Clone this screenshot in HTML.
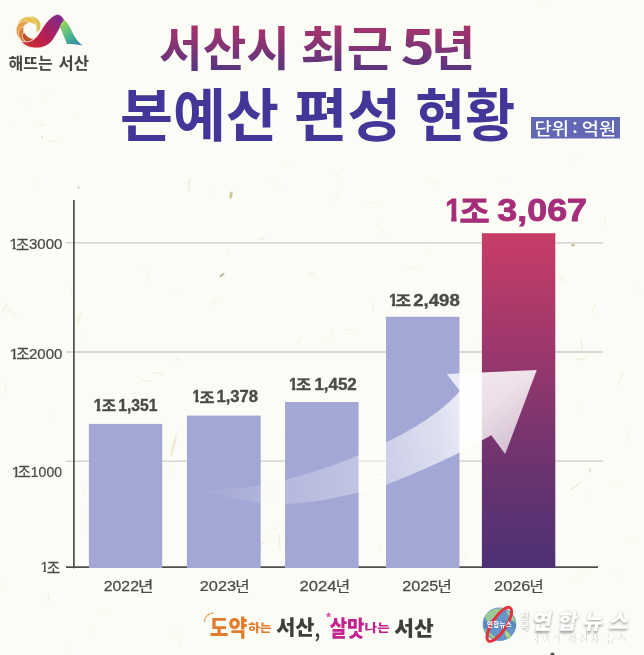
<!DOCTYPE html>
<html lang="ko">
<head>
<meta charset="utf-8">
<title>서산시 최근 5년 본예산 편성 현황</title>
<style>
html,body{margin:0;padding:0;background:#fcfcf6;}
body{width:644px;height:655px;overflow:hidden;position:relative;font-family:"Liberation Sans","Noto Sans CJK KR",sans-serif;}
svg{position:absolute;left:0;top:0;display:block;}
text{font-family:"Liberation Sans","Noto Sans CJK KR",sans-serif;}
.k{font-family:"Noto Sans CJK KR","Liberation Sans",sans-serif;}
</style>
</head>
<body>
<svg width="644" height="655" viewBox="0 0 644 655">
<defs>
  <linearGradient id="gT1" x1="0" y1="-41.500" x2="0" y2="4.500" gradientUnits="userSpaceOnUse">
    <stop offset="0" stop-color="#ad336a"/><stop offset="1" stop-color="#583680"/>
  </linearGradient>
  <linearGradient id="gBar" x1="0" y1="0" x2="0" y2="1">
    <stop offset="0" stop-color="#c93d68"/><stop offset="0.29" stop-color="#a3386b"/><stop offset="0.72" stop-color="#693370"/><stop offset="1" stop-color="#4d3174"/>
  </linearGradient>
  <linearGradient id="gRib" x1="22" y1="46" x2="62" y2="16" gradientUnits="userSpaceOnUse">
    <stop offset="0" stop-color="#d0342c"/><stop offset="0.45" stop-color="#b81f4e"/><stop offset="1" stop-color="#7d2a92"/>
  </linearGradient>
  <linearGradient id="gGrn" x1="62" y1="22" x2="80" y2="46" gradientUnits="userSpaceOnUse">
    <stop offset="0" stop-color="#9ed45c"/><stop offset="0.5" stop-color="#4fb88a"/><stop offset="1" stop-color="#2a7fa8"/>
  </linearGradient>
  <linearGradient id="gArrow" x1="197" y1="0" x2="540" y2="0" gradientUnits="userSpaceOnUse">
    <stop offset="0" stop-color="#ffffff" stop-opacity="0"/>
    <stop offset="0.125" stop-color="#ffffff" stop-opacity="0.100"/>
    <stop offset="0.265" stop-color="#ffffff" stop-opacity="0.210"/>
    <stop offset="0.449" stop-color="#ffffff" stop-opacity="0.320"/>
    <stop offset="0.7055" stop-color="#ffffff" stop-opacity="0.660"/>
    <stop offset="0.816" stop-color="#ffffff" stop-opacity="0.880"/>
    <stop offset="1" stop-color="#ffffff" stop-opacity="0.930"/>
  </linearGradient>
  <linearGradient id="gFade" x1="425" y1="425" x2="485" y2="485" gradientUnits="userSpaceOnUse">
    <stop offset="0" stop-color="#ffffff"/>
    <stop offset="0.4" stop-color="#f0f0f0"/>
    <stop offset="1" stop-color="#bdbdbd"/>
  </linearGradient>
  <mask id="mArrow" maskUnits="userSpaceOnUse" x="180" y="350" width="380" height="170"><rect x="180" y="350" width="380" height="170" fill="url(#gFade)"/></mask>
  <filter id="fSh" x="-10%" y="-30%" width="120%" height="160%"><feGaussianBlur stdDeviation="1.100"/></filter>
  <filter id="fSh2" x="-10%" y="-30%" width="120%" height="160%"><feGaussianBlur stdDeviation="0.700"/></filter>
  <clipPath id="c1r14_97" clipPathUnits="userSpaceOnUse"><path d="M-0.75,-14.97 L9.28,-14.97 L9.28,-2.12 L5.79,-2.12 L5.79,1.20 L3.06,1.20 L3.06,-2.12 L-0.75,-2.12 Z"/></clipPath>
  <clipPath id="c1r14_68" clipPathUnits="userSpaceOnUse"><path d="M-0.73,-14.68 L9.10,-14.68 L9.10,-2.10 L5.69,-2.10 L5.69,1.17 L2.99,1.17 L2.99,-2.10 L-0.73,-2.10 Z"/></clipPath>
  <clipPath id="c1r15_41" clipPathUnits="userSpaceOnUse"><path d="M-0.77,-15.41 L9.55,-15.41 L9.55,-2.15 L5.94,-2.15 L5.94,1.23 L3.18,1.23 L3.18,-2.15 L-0.77,-2.15 Z"/></clipPath>
  <clipPath id="c1b31_4" clipPathUnits="userSpaceOnUse"><path d="M-1.57,-31.40 L19.47,-31.40 L19.47,-4.20 L12.34,-4.20 L12.34,2.51 L6.63,2.51 L6.63,-4.20 L-1.57,-4.20 Z"/></clipPath>
  <clipPath id="c1b16_86" clipPathUnits="userSpaceOnUse"><path d="M-0.84,-16.86 L10.45,-16.86 L10.45,-2.72 L6.95,-2.72 L6.95,1.35 L3.24,1.35 L3.24,-2.72 L-0.84,-2.72 Z"/></clipPath>
</defs>
<rect width="644" height="655" fill="#fcfcf6"/>
<g id="paper" fill="none" stroke-linecap="round">
<path d="M595.2,305.0 Q592.1,309.2 592.9,313.3" stroke="#efe8cc" stroke-width="1.1" stroke-opacity="0.71"/>
<path d="M408.6,390.0 Q410.6,394.6 409.7,397.3" stroke="#efe8cc" stroke-width="1.1" stroke-opacity="0.72"/>
<path d="M38.4,124.6 Q41.0,124.5 44.0,125.1" stroke="#f1ebd3" stroke-width="1.3" stroke-opacity="0.58"/>
<path d="M321.9,433.9 Q327.4,440.0 327.0,440.1" stroke="#f1ebd3" stroke-width="1.3" stroke-opacity="0.67"/>
<path d="M488.1,335.9 Q485.5,335.2 487.5,339.2" stroke="#efe8cc" stroke-width="0.8" stroke-opacity="0.38"/>
<path d="M545.7,0.4 Q542.9,4.0 540.6,1.8" stroke="#ece6cf" stroke-width="0.9" stroke-opacity="0.38"/>
<path d="M501.4,176.7 Q505.1,180.0 503.3,180.1" stroke="#efe8cc" stroke-width="0.6" stroke-opacity="0.46"/>
<path d="M7.1,304.5 Q2.9,308.1 2.5,311.6" stroke="#e9e4d2" stroke-width="1.4" stroke-opacity="0.70"/>
<path d="M173.7,636.0 Q179.5,639.1 180.6,645.6" stroke="#eee9d8" stroke-width="0.9" stroke-opacity="0.73"/>
<path d="M64.6,648.0 Q68.1,648.9 68.3,651.9" stroke="#efe8cc" stroke-width="0.8" stroke-opacity="0.38"/>
<path d="M378.2,545.2 Q379.8,546.2 379.8,549.4" stroke="#ece6cf" stroke-width="0.7" stroke-opacity="0.62"/>
<path d="M356.7,450.0 Q354.4,450.9 357.1,457.2" stroke="#f1ebd3" stroke-width="0.6" stroke-opacity="0.58"/>
<path d="M153.5,461.5 Q151.6,461.8 148.6,464.6" stroke="#efe8cc" stroke-width="0.7" stroke-opacity="0.67"/>
<path d="M81.4,313.9 Q77.0,317.0 77.8,323.5" stroke="#efe8cc" stroke-width="1.3" stroke-opacity="0.69"/>
<path d="M173.4,291.9 Q174.1,293.3 176.5,293.9" stroke="#e9e4d2" stroke-width="0.6" stroke-opacity="0.51"/>
<path d="M631.4,430.3 Q627.9,432.6 628.7,440.5" stroke="#f1ebd3" stroke-width="0.5" stroke-opacity="0.76"/>
<path d="M579.7,482.8 Q577.9,485.2 571.2,489.3" stroke="#e9e4d2" stroke-width="1.1" stroke-opacity="0.76"/>
<path d="M426.5,248.4 Q425.6,246.4 429.6,249.1" stroke="#f1ebd3" stroke-width="0.7" stroke-opacity="0.54"/>
<path d="M250.2,481.4 Q253.1,483.6 251.9,490.7" stroke="#eee9d8" stroke-width="1.2" stroke-opacity="0.36"/>
<path d="M502.3,432.4 Q497.5,431.6 494.4,435.1" stroke="#f1ebd3" stroke-width="1.1" stroke-opacity="0.58"/>
<path d="M277.5,527.9 Q270.7,530.8 265.4,532.7" stroke="#e9e4d2" stroke-width="0.8" stroke-opacity="0.41"/>
<path d="M631.4,538.3 Q634.1,542.4 631.7,542.5" stroke="#f1ebd3" stroke-width="0.8" stroke-opacity="0.58"/>
<path d="M461.3,551.4 Q465.9,554.3 466.6,559.8" stroke="#f1ebd3" stroke-width="1.0" stroke-opacity="0.66"/>
<path d="M367.5,202.4 Q371.1,202.5 379.1,203.1" stroke="#ece6cf" stroke-width="0.5" stroke-opacity="0.72"/>
<path d="M501.8,521.9 Q506.0,524.6 514.8,526.8" stroke="#efe8cc" stroke-width="1.1" stroke-opacity="0.52"/>
<path d="M6.9,309.3 Q10.2,311.3 16.1,315.1" stroke="#eee9d8" stroke-width="1.1" stroke-opacity="0.58"/>
<path d="M144.2,268.9 Q146.1,273.1 148.6,280.9" stroke="#eee9d8" stroke-width="1.3" stroke-opacity="0.35"/>
<path d="M298.6,426.6 Q298.9,429.5 295.3,430.6" stroke="#e9e4d2" stroke-width="1.1" stroke-opacity="0.45"/>
<path d="M345.8,518.0 Q344.8,518.0 339.5,519.8" stroke="#eee9d8" stroke-width="0.6" stroke-opacity="0.55"/>
<path d="M271.4,180.3 Q278.7,184.0 281.5,188.6" stroke="#ece6cf" stroke-width="0.5" stroke-opacity="0.59"/>
<path d="M580.0,339.4 Q583.2,345.0 581.9,349.7" stroke="#e9e4d2" stroke-width="1.1" stroke-opacity="0.69"/>
<path d="M339.2,190.1 Q337.0,197.1 334.5,200.0" stroke="#e9e4d2" stroke-width="1.0" stroke-opacity="0.49"/>
<path d="M614.9,569.9 Q615.5,574.1 620.5,577.8" stroke="#e9e4d2" stroke-width="0.7" stroke-opacity="0.57"/>
<path d="M345.1,329.6 Q352.7,330.1 354.7,330.4" stroke="#eee9d8" stroke-width="0.9" stroke-opacity="0.71"/>
<path d="M107.4,609.7 Q105.3,610.1 99.6,611.7" stroke="#f1ebd3" stroke-width="0.7" stroke-opacity="0.57"/>
<path d="M279.3,534.3 Q278.7,538.9 280.2,547.2" stroke="#ece6cf" stroke-width="1.1" stroke-opacity="0.77"/>
<path d="M22.9,101.9 Q25.3,101.6 24.9,104.3" stroke="#eee9d8" stroke-width="0.9" stroke-opacity="0.57"/>
<path d="M79.1,334.4 Q81.6,335.7 83.8,337.7" stroke="#eee9d8" stroke-width="0.8" stroke-opacity="0.54"/>
<path d="M396.6,352.5 Q394.2,357.0 395.2,364.9" stroke="#ece6cf" stroke-width="1.0" stroke-opacity="0.61"/>
<path d="M149.8,485.2 Q143.0,485.9 138.5,488.8" stroke="#ece6cf" stroke-width="1.3" stroke-opacity="0.45"/>
<path d="M154.1,475.9 Q158.9,476.3 159.7,477.7" stroke="#e9e4d2" stroke-width="1.2" stroke-opacity="0.41"/>
<path d="M404.4,523.3 Q403.1,527.2 403.5,527.2" stroke="#f1ebd3" stroke-width="0.8" stroke-opacity="0.67"/>
<path d="M323.8,449.1 Q323.9,446.9 328.7,450.2" stroke="#eee9d8" stroke-width="1.0" stroke-opacity="0.58"/>
<path d="M74.0,113.0 Q76.6,115.3 77.0,116.7" stroke="#efe8cc" stroke-width="0.6" stroke-opacity="0.66"/>
<path d="M300.7,337.5 Q296.6,342.4 298.3,344.9" stroke="#e9e4d2" stroke-width="1.3" stroke-opacity="0.43"/>
<path d="M231.6,242.5 Q227.0,250.4 227.3,254.9" stroke="#e9e4d2" stroke-width="0.8" stroke-opacity="0.39"/>
<path d="M376.5,223.3 Q377.8,229.2 383.8,232.1" stroke="#ece6cf" stroke-width="0.6" stroke-opacity="0.77"/>
<path d="M577.4,576.3 Q575.0,579.3 569.5,583.4" stroke="#f1ebd3" stroke-width="1.2" stroke-opacity="0.38"/>
<path d="M175.8,629.7 Q177.7,629.8 180.7,633.7" stroke="#e9e4d2" stroke-width="0.6" stroke-opacity="0.58"/>
<path d="M413.6,459.3 Q405.1,460.4 402.3,460.0" stroke="#e9e4d2" stroke-width="1.2" stroke-opacity="0.47"/>
<path d="M325.1,498.7 Q328.7,497.5 335.2,499.0" stroke="#e9e4d2" stroke-width="0.8" stroke-opacity="0.59"/>
<path d="M622.8,372.0 Q621.8,375.8 617.0,384.7" stroke="#efe8cc" stroke-width="1.0" stroke-opacity="0.69"/>
<path d="M551.1,355.0 Q552.1,358.4 553.2,364.3" stroke="#eee9d8" stroke-width="0.9" stroke-opacity="0.49"/>
<path d="M184.0,429.1 Q188.2,431.4 189.8,436.2" stroke="#efe8cc" stroke-width="0.5" stroke-opacity="0.46"/>
<path d="M407.6,267.8 Q411.7,268.0 418.0,269.5" stroke="#f1ebd3" stroke-width="1.0" stroke-opacity="0.68"/>
<path d="M47.3,593.1 Q50.4,595.5 47.9,600.8" stroke="#e9e4d2" stroke-width="1.0" stroke-opacity="0.77"/>
<path d="M93.0,628.8 Q88.6,630.5 89.5,633.3" stroke="#f1ebd3" stroke-width="0.6" stroke-opacity="0.74"/>
<path d="M285.2,437.5 Q288.4,439.9 290.6,443.3" stroke="#ece6cf" stroke-width="1.2" stroke-opacity="0.59"/>
<path d="M613.5,481.0 Q618.5,483.6 618.8,482.9" stroke="#f1ebd3" stroke-width="1.1" stroke-opacity="0.51"/>
<path d="M392.7,474.9 Q395.8,476.4 401.6,480.9" stroke="#ece6cf" stroke-width="1.4" stroke-opacity="0.58"/>
<path d="M39.1,177.5 Q35.3,181.3 36.2,184.6" stroke="#ece6cf" stroke-width="0.6" stroke-opacity="0.39"/>
<path d="M354.6,413.4 Q353.1,416.0 355.1,420.5" stroke="#efe8cc" stroke-width="1.2" stroke-opacity="0.73"/>
<path d="M516.7,293.0 Q513.0,295.6 506.1,298.9" stroke="#ece6cf" stroke-width="1.2" stroke-opacity="0.53"/>
<path d="M237.6,428.1 Q241.5,435.5 244.8,440.0" stroke="#f1ebd3" stroke-width="1.3" stroke-opacity="0.54"/>
<path d="M373.9,302.6 Q373.0,306.3 373.0,309.1" stroke="#efe8cc" stroke-width="1.2" stroke-opacity="0.56"/>
<path d="M49.0,139.7 Q52.8,142.3 58.9,142.3" stroke="#ece6cf" stroke-width="1.1" stroke-opacity="0.48"/>
<path d="M140.9,430.5 Q136.7,431.1 134.6,432.4" stroke="#f1ebd3" stroke-width="1.0" stroke-opacity="0.76"/>
<path d="M282.1,526.0 Q283.2,531.3 285.5,531.3" stroke="#f1ebd3" stroke-width="1.3" stroke-opacity="0.46"/>
<path d="M436.0,383.0 Q431.2,386.7 428.0,391.6" stroke="#ece6cf" stroke-width="0.6" stroke-opacity="0.62"/>
<path d="M113.7,497.1 Q114.9,502.1 121.8,506.9" stroke="#efe8cc" stroke-width="1.0" stroke-opacity="0.61"/>
<path d="M419.4,526.8 Q420.8,526.2 418.8,530.5" stroke="#f1ebd3" stroke-width="0.6" stroke-opacity="0.68"/>
<path d="M54.5,415.4 Q53.8,415.5 51.3,418.6" stroke="#eee9d8" stroke-width="0.7" stroke-opacity="0.69"/>
<path d="M217.8,300.7 Q214.0,300.5 212.1,304.6" stroke="#efe8cc" stroke-width="0.9" stroke-opacity="0.71"/>
<path d="M264.4,541.2 Q261.6,545.5 255.2,545.8" stroke="#efe8cc" stroke-width="1.3" stroke-opacity="0.78"/>
<path d="M337.4,465.1 Q338.3,468.7 340.2,476.6" stroke="#e9e4d2" stroke-width="1.2" stroke-opacity="0.80"/>
<path d="M250.7,346.5 Q247.7,349.0 245.1,348.6" stroke="#ece6cf" stroke-width="0.8" stroke-opacity="0.42"/>
<path d="M587.5,493.3 Q589.4,493.8 587.6,496.5" stroke="#eee9d8" stroke-width="0.7" stroke-opacity="0.51"/>
<path d="M151.6,469.8 Q153.4,471.6 158.9,476.0" stroke="#f1ebd3" stroke-width="0.7" stroke-opacity="0.69"/>
<path d="M354.5,559.0 Q358.5,563.9 357.0,566.9" stroke="#ece6cf" stroke-width="1.2" stroke-opacity="0.39"/>
<path d="M86.5,522.9 Q82.6,528.7 75.5,531.1" stroke="#efe8cc" stroke-width="0.6" stroke-opacity="0.77"/>
<path d="M289.8,161.5 Q285.8,164.6 282.8,164.4" stroke="#eee9d8" stroke-width="0.6" stroke-opacity="0.76"/>
<path d="M84.4,485.8 Q81.5,491.1 83.9,495.6" stroke="#ece6cf" stroke-width="0.7" stroke-opacity="0.44"/>
<path d="M173.8,469.3 Q173.8,474.1 174.1,473.4" stroke="#f1ebd3" stroke-width="1.0" stroke-opacity="0.74"/>
<path d="M12.3,123.0 Q12.6,124.8 9.5,127.3" stroke="#e9e4d2" stroke-width="0.5" stroke-opacity="0.54"/>
<path d="M101.5,545.0 Q100.7,546.5 105.1,550.3" stroke="#f1ebd3" stroke-width="0.9" stroke-opacity="0.67"/>
<path d="M47.9,92.1 Q46.6,98.2 42.4,100.9" stroke="#e9e4d2" stroke-width="0.6" stroke-opacity="0.55"/>
<path d="M486.2,363.9 Q487.1,362.7 489.5,366.1" stroke="#e9e4d2" stroke-width="0.8" stroke-opacity="0.47"/>
<path d="M436.4,463.9 Q439.2,466.9 437.9,468.7" stroke="#ece6cf" stroke-width="0.6" stroke-opacity="0.45"/>
<path d="M635.9,284.1 Q640.6,291.8 641.4,294.2" stroke="#ece6cf" stroke-width="0.6" stroke-opacity="0.44"/>
<path d="M528.8,252.8 Q526.8,255.4 530.6,259.2" stroke="#ece6cf" stroke-width="1.1" stroke-opacity="0.79"/>
<path d="M425.2,398.6 Q425.1,400.9 426.8,401.4" stroke="#eee9d8" stroke-width="0.6" stroke-opacity="0.52"/>
<path d="M214.3,192.2 Q211.5,194.1 211.7,195.5" stroke="#eee9d8" stroke-width="0.8" stroke-opacity="0.46"/>
<path d="M332.3,468.6 Q340.0,472.9 342.3,475.7" stroke="#ece6cf" stroke-width="0.7" stroke-opacity="0.39"/>
<path d="M307.8,273.5 Q313.2,273.0 314.2,275.4" stroke="#ece6cf" stroke-width="1.3" stroke-opacity="0.55"/>
<path d="M153.7,372.9 Q160.6,371.8 162.5,374.7" stroke="#f1ebd3" stroke-width="1.2" stroke-opacity="0.75"/>
<path d="M577.7,157.8 Q571.8,160.4 569.6,162.5" stroke="#ece6cf" stroke-width="0.6" stroke-opacity="0.36"/>
<path d="M583.8,403.0 Q578.0,405.8 576.4,409.8" stroke="#efe8cc" stroke-width="0.5" stroke-opacity="0.59"/>
<path d="M334.7,172.7 Q337.9,173.9 339.4,180.7" stroke="#e9e4d2" stroke-width="1.1" stroke-opacity="0.42"/>
<path d="M443.9,496.5 Q447.1,504.2 444.4,507.8" stroke="#e9e4d2" stroke-width="1.3" stroke-opacity="0.53"/>
<path d="M604.7,216.4 Q602.9,223.1 606.8,224.8" stroke="#e9e4d2" stroke-width="0.8" stroke-opacity="0.63"/>
<path d="M471.4,391.4 Q475.2,393.4 477.9,400.6" stroke="#eee9d8" stroke-width="0.6" stroke-opacity="0.55"/>
<path d="M586.0,357.0 Q583.3,360.9 576.0,358.9" stroke="#f1ebd3" stroke-width="1.2" stroke-opacity="0.74"/>
<path d="M558.0,276.0 Q564.0,280.2 567.1,283.6" stroke="#ece6cf" stroke-width="1.3" stroke-opacity="0.39"/>
<path d="M79.7,352.1 Q84.9,350.9 93.2,352.1" stroke="#e9e4d2" stroke-width="0.8" stroke-opacity="0.38"/>
<path d="M525.1,260.2 Q521.5,260.7 523.3,266.9" stroke="#e9e4d2" stroke-width="1.3" stroke-opacity="0.49"/>
<path d="M92.2,508.7 Q85.1,513.0 81.5,513.0" stroke="#f1ebd3" stroke-width="1.1" stroke-opacity="0.38"/>
<path d="M579.8,569.6 Q585.9,574.4 589.7,574.0" stroke="#ece6cf" stroke-width="0.9" stroke-opacity="0.39"/>
<path d="M190.3,179.0 Q187.5,185.0 189.4,190.8" stroke="#ece6cf" stroke-width="1.4" stroke-opacity="0.75"/>
<path d="M429.6,181.3 Q437.3,182.4 439.2,184.1" stroke="#efe8cc" stroke-width="1.0" stroke-opacity="0.59"/>
<path d="M4.5,384.2 Q6.0,386.5 6.6,392.9" stroke="#ece6cf" stroke-width="1.4" stroke-opacity="0.44"/>
<path d="M179.7,359.0 Q180.3,357.0 175.0,360.6" stroke="#e9e4d2" stroke-width="0.9" stroke-opacity="0.69"/>
<path d="M1.7,584.0 Q5.2,586.8 5.3,584.7" stroke="#efe8cc" stroke-width="0.8" stroke-opacity="0.57"/>
<path d="M332.8,331.2 Q329.5,339.0 326.0,341.5" stroke="#ece6cf" stroke-width="0.7" stroke-opacity="0.70"/>
<path d="M72.2,285.3 Q70.0,291.7 70.6,295.5" stroke="#eee9d8" stroke-width="1.1" stroke-opacity="0.47"/>
<path d="M142.5,380.0 Q147.3,381.7 150.9,380.9" stroke="#ece6cf" stroke-width="1.0" stroke-opacity="0.74"/>
<path d="M391.9,528.0 Q391.3,528.5 386.4,534.6" stroke="#eee9d8" stroke-width="0.6" stroke-opacity="0.43"/>
<path d="M373.2,473.0 Q377.6,475.1 382.9,474.7" stroke="#f1ebd3" stroke-width="1.2" stroke-opacity="0.68"/>
<path d="M492.9,326.4 Q492.0,330.0 492.5,336.6" stroke="#eee9d8" stroke-width="0.9" stroke-opacity="0.65"/>
<path d="M264.4,238.7 Q259.0,238.9 259.1,239.2" stroke="#ece6cf" stroke-width="1.2" stroke-opacity="0.79"/>
<path d="M479.5,341.7 Q485.9,341.9 493.4,341.8" stroke="#e9e4d2" stroke-width="0.6" stroke-opacity="0.60"/>
<ellipse cx="231" cy="195" rx="1.5" ry="3.5" transform="rotate(10 231 195)" fill="#cdbf8c" fill-opacity="0.9" stroke="none"/>
<ellipse cx="78.5" cy="187.5" rx="1.2" ry="1.2" transform="rotate(0 78.5 187.5)" fill="#c9c7bd" fill-opacity="0.8" stroke="none"/>
<ellipse cx="222" cy="275" rx="0.9" ry="3.2" transform="rotate(50 222 275)" fill="#a89c80" fill-opacity="0.8" stroke="none"/>
<ellipse cx="573" cy="245" rx="2.0" ry="1.6" transform="rotate(0 573 245)" fill="#c2b588" fill-opacity="0.8" stroke="none"/>
<ellipse cx="42" cy="137" rx="1.2" ry="1.0" transform="rotate(0 42 137)" fill="#ddd6b8" fill-opacity="0.8" stroke="none"/>
<ellipse cx="173.5" cy="446" rx="1.5" ry="11" transform="rotate(14 173.5 446)" fill="#ebe4c6" fill-opacity="0.75" stroke="none"/>
<ellipse cx="465" cy="27" rx="1.0" ry="2.2" transform="rotate(30 465 27)" fill="#e0d8b8" fill-opacity="0.7" stroke="none"/>
<ellipse cx="560" cy="352" rx="1.2" ry="1.0" transform="rotate(0 560 352)" fill="#d8d0b0" fill-opacity="0.6" stroke="none"/>
<ellipse cx="590" cy="470" rx="0.9" ry="2.4" transform="rotate(10 590 470)" fill="#d5d0c4" fill-opacity="0.7" stroke="none"/>
</g>

<!-- logo -->
<g id="logo">
<g id="sun">
<path d="M36.1,31.9 L38.1,31.4 L39.3,30.2 L40.2,28.7 L40.7,27.0 L40.7,25.1 L40.4,23.2 L39.6,21.4 L38.4,19.8 L36.9,18.4 L35.1,17.3 L33.2,16.6 L31.1,16.4 L29.0,16.6 L27.2,17.6 L27.2,17.6 L29.2,18.6 L30.9,19.4 L32.3,20.3 L33.5,21.3 L34.5,22.4 L35.2,23.5 L35.8,24.6 L36.1,25.7 L36.4,26.8 L36.5,27.9 L36.4,28.9 L36.3,29.9 L36.1,30.8 L36.1,31.9 Z" fill="#d6c552" stroke="#fbead0" stroke-width="0.7" stroke-linejoin="round"/>
<path d="M35.0,24.5 L35.3,22.4 L34.6,20.7 L33.5,19.3 L32.1,18.2 L30.4,17.4 L28.5,17.0 L26.5,17.0 L24.5,17.5 L22.6,18.3 L20.9,19.5 L19.4,21.1 L18.3,22.9 L17.7,24.9 L17.9,27.0 L17.9,27.0 L19.7,25.6 L21.2,24.4 L22.7,23.5 L24.1,22.9 L25.5,22.4 L26.8,22.2 L28.1,22.2 L29.3,22.3 L30.3,22.5 L31.3,22.8 L32.3,23.2 L33.1,23.7 L34.0,24.2 L35.0,24.5 Z" fill="#e9bd4a" stroke="#fbead0" stroke-width="0.7" stroke-linejoin="round"/>
<path d="M28.5,22.6 L26.7,21.2 L24.9,20.8 L23.0,21.1 L21.2,21.8 L19.6,22.9 L18.2,24.4 L17.1,26.3 L16.5,28.3 L16.2,30.5 L16.4,32.7 L17.0,34.9 L18.1,36.9 L19.6,38.5 L21.7,39.5 L21.7,39.5 L21.4,37.0 L21.1,35.0 L21.1,33.2 L21.2,31.5 L21.6,30.0 L22.2,28.7 L22.8,27.5 L23.5,26.5 L24.3,25.7 L25.1,24.9 L25.9,24.3 L26.8,23.8 L27.7,23.3 L28.5,22.6 Z" fill="#e5a049" stroke="#fbead0" stroke-width="0.7" stroke-linejoin="round"/>
<path d="M23.7,26.8 L21.4,27.5 L20.0,28.8 L19.1,30.5 L18.6,32.5 L18.6,34.6 L19.0,36.7 L20.0,38.7 L21.3,40.5 L23.0,42.0 L25.0,43.2 L27.2,43.9 L29.6,44.2 L31.9,43.9 L33.9,42.7 L33.9,42.7 L31.6,41.5 L29.7,40.6 L28.2,39.5 L26.8,38.3 L25.8,37.1 L25.0,35.9 L24.4,34.6 L24.0,33.4 L23.7,32.2 L23.6,31.1 L23.6,30.0 L23.6,29.0 L23.8,27.9 L23.7,26.8 Z" fill="#d9803e" stroke="#fbead0" stroke-width="0.7" stroke-linejoin="round"/>
<path d="M23.8,32.2 L22.6,34.2 L22.4,36.1 L22.8,37.9 L23.7,39.5 L24.9,41.0 L26.4,42.2 L28.2,43.2 L30.2,43.7 L32.3,43.9 L34.4,43.7 L36.4,43.1 L38.3,42.1 L39.9,40.7 L40.9,38.7 L40.9,38.7 L38.4,38.9 L36.4,39.1 L34.7,39.1 L33.0,38.9 L31.5,38.5 L30.2,38.0 L29.1,37.4 L28.0,36.8 L27.2,36.1 L26.4,35.3 L25.7,34.5 L25.1,33.8 L24.5,32.9 L23.8,32.2 Z" fill="#bf512e" stroke="#fbead0" stroke-width="0.7" stroke-linejoin="round"/>
</g>
<path d="M56.200,14.600 C50,17 45.500,23 40,32 C37,37 34,40 30,41.300 C26.500,42.300 23,41.800 20.500,40.500 C24,45.500 29,47.800 35.500,48 C43,48.200 48.500,45.500 52.800,40 C58.500,31.500 60.500,26 64.500,20.400 C62.500,16 59,13.600 56.200,14.600 Z" fill="url(#gRib)" stroke="#fdeee6" stroke-width="0.800"/>
<path d="M64,19.800 C66.500,21.500 68,24 69.600,26.600 C71.500,30 72.500,33 74.600,36.600 C77,40.500 79.500,43.500 82.700,45.600 C77,44.300 72,44 67.100,44 L59.700,26.600 C61,24 62.500,21.500 64,19.800 Z" fill="url(#gGrn)"/>
<text class="k" transform="translate(8.55 68.50) scale(1.0035 1)" font-size="16.00" fill="#454545" font-weight="700">해뜨는</text>
<text class="k" transform="translate(58.48 68.50) scale(1.0351 1)" font-size="16.00" fill="#454545" font-weight="700">서산</text>
</g>

<!-- title -->
<g id="title">
<text class="k" transform="translate(159.11 65.50) scale(0.9964 1)" font-size="47.50" fill="url(#gT1)" font-weight="700">서산시</text>
<text class="k" transform="translate(300.52 65.50) scale(1.0583 1)" font-size="47.50" fill="url(#gT1)" font-weight="700">최근</text>
<text class="k" transform="translate(400.67 63.85) scale(1.2208 1)" font-size="47.32" fill="url(#gT1)" font-weight="700">5</text>
<text class="k" transform="translate(430.89 65.50) scale(1.0141 1)" font-size="47.50" fill="url(#gT1)" font-weight="700">년</text>
<text class="k" transform="translate(120.00 136.00) scale(1.0204 1)" font-size="56.50" fill="#433699" font-weight="700">본예산</text>
<text class="k" transform="translate(293.78 136.00) scale(1.0333 1)" font-size="56.50" fill="#433699" font-weight="700">편성</text>
<text class="k" transform="translate(415.30 136.00) scale(0.9600 1)" font-size="56.50" fill="#433699" font-weight="700">현황</text>
<rect x="531" y="117" width="89" height="21.500" fill="#6268b4"/>
<text class="k" transform="translate(534.49 134.80) scale(1.1407 1)" font-size="16.50" fill="#fff" font-weight="500">단위</text>
<text class="k" transform="translate(572.20 134.30) scale(1.1200 1)" font-size="16.50" fill="#fff" font-weight="500">:</text>
<text class="k" transform="translate(581.77 134.80) scale(1.1315 1)" font-size="16.50" fill="#fff" font-weight="500">억원</text>
</g>

<!-- chart -->
<g id="chart">
<g stroke="#cdcdc8" stroke-width="1.300">
<line x1="66" y1="242.900" x2="603" y2="242.900"/>
<line x1="66" y1="352" x2="603" y2="352"/>
<line x1="66" y1="461.100" x2="603" y2="461.100"/>
</g>
<line x1="73.900" y1="200" x2="73.900" y2="568.300" stroke="#4e4e4c" stroke-width="1.700"/>
<line x1="66" y1="567.100" x2="598" y2="567.100" stroke="#4e4e4c" stroke-width="1.700"/>
<rect x="88.900" y="423.900" width="73.300" height="144.100" fill="#a2a7d5"/>
<rect x="186.900" y="415.600" width="73.800" height="152.400" fill="#a2a7d5"/>
<rect x="285" y="402" width="73.600" height="166" fill="#a2a7d5"/>
<rect x="386" y="316.800" width="73.500" height="251.200" fill="#a2a7d5"/>
<rect x="481.900" y="233.200" width="73.400" height="334.800" fill="url(#gBar)"/>
<g mask="url(#mArrow)"><path id="arrow" d="M197,489 C225,490 255,488 285,480 C315,472 350,461 386.500,442 C412,430 442,412 459.800,391 L446.800,374.100 L536.800,369.900 L505.200,453.900 L491.300,435.200 C480,441 470,447.500 459.500,452.800 C435,465 410,475.500 386.500,484.500 C375,488.500 367,490.500 358,492.500 C333,498.500 310,503.500 285,504 C262,504.500 225,498 197,489 Z" fill="url(#gArrow)"/></g>
</g>

<g id="ylabels">
<text transform="translate(9.32 249.10) scale(1.0966 1)" font-size="14.97" fill="#4a4a4a" stroke="#4a4a4a" stroke-width="0.25" clip-path="url(#c1r14_97)">1</text>
<text class="k" transform="translate(16.07 249.70) scale(0.9714 1)" font-size="14.84" fill="#4a4a4a" stroke="#4a4a4a" stroke-width="0.25">조</text>
<text transform="translate(29.00 249.30) scale(1.0016 1)" font-size="14.98" fill="#4a4a4a" stroke="#4a4a4a" stroke-width="0.25">3000</text>
<text transform="translate(9.62 358.70) scale(1.0966 1)" font-size="14.97" fill="#4a4a4a" stroke="#4a4a4a" stroke-width="0.25" clip-path="url(#c1r14_97)">1</text>
<text class="k" transform="translate(16.27 359.30) scale(0.9714 1)" font-size="14.84" fill="#4a4a4a" stroke="#4a4a4a" stroke-width="0.25">조</text>
<text transform="translate(28.95 358.90) scale(1.0031 1)" font-size="14.98" fill="#4a4a4a" stroke="#4a4a4a" stroke-width="0.25">2000</text>
<text transform="translate(11.70 476.50) scale(1.0624 1)" font-size="14.68" fill="#4a4a4a" stroke="#4a4a4a" stroke-width="0.25" clip-path="url(#c1r14_68)">1</text>
<text class="k" transform="translate(17.87 477.10) scale(0.9750 1)" font-size="14.56" fill="#4a4a4a" stroke="#4a4a4a" stroke-width="0.25">조</text>
<text transform="translate(30.85 476.70) scale(0.9516 1)" font-size="14.70" fill="#4a4a4a" stroke="#4a4a4a" stroke-width="0.25">1000</text>
<text transform="translate(40.52 571.90) scale(0.9322 1)" font-size="15.41" fill="#4a4a4a" stroke="#4a4a4a" stroke-width="0.25" clip-path="url(#c1r15_41)">1</text>
<text class="k" transform="translate(46.69 572.50) scale(0.9520 1)" font-size="15.27" fill="#4a4a4a" stroke="#4a4a4a" stroke-width="0.25">조</text>
</g>
<g id="xlabels">
<text transform="translate(103.71 590.60) scale(1.0500 1)" font-size="15.12" fill="#4a4a4a" stroke="#4a4a4a" stroke-width="0.25">2022</text>
<text class="k" transform="translate(138.02 591.05) scale(1.1900 1)" font-size="14.05" fill="#4a4a4a" stroke="#4a4a4a" stroke-width="0.25">년</text>
<text transform="translate(199.79 590.60) scale(1.0791 1)" font-size="15.12" fill="#4a4a4a" stroke="#4a4a4a" stroke-width="0.25">2023</text>
<text class="k" transform="translate(235.34 591.05) scale(1.1100 1)" font-size="14.05" fill="#4a4a4a" stroke="#4a4a4a" stroke-width="0.25">년</text>
<text transform="translate(299.48 590.60) scale(1.0985 1)" font-size="15.12" fill="#4a4a4a" stroke="#4a4a4a" stroke-width="0.25">2024</text>
<text class="k" transform="translate(335.63 591.05) scale(1.1100 1)" font-size="14.05" fill="#4a4a4a" stroke="#4a4a4a" stroke-width="0.25">년</text>
<text transform="translate(402.19 590.60) scale(1.0760 1)" font-size="15.12" fill="#4a4a4a" stroke="#4a4a4a" stroke-width="0.25">2025</text>
<text class="k" transform="translate(437.55 591.05) scale(1.1000 1)" font-size="14.05" fill="#4a4a4a" stroke="#4a4a4a" stroke-width="0.25">년</text>
<text transform="translate(494.09 590.60) scale(1.0791 1)" font-size="15.12" fill="#4a4a4a" stroke="#4a4a4a" stroke-width="0.25">2026</text>
<text class="k" transform="translate(529.45 591.05) scale(1.1000 1)" font-size="14.05" fill="#4a4a4a" stroke="#4a4a4a" stroke-width="0.25">년</text>
</g>
<g id="vals">
<text transform="translate(93.57 411.00) scale(0.9812 1)" font-size="16.86" fill="#4a4a4a" stroke="#4a4a4a" stroke-width="0.35" clip-path="url(#c1b16_86)" font-weight="700">1</text>
<text class="k" transform="translate(101.64 411.35) scale(1.0196 1)" font-size="15.33" fill="#4a4a4a" stroke="#4a4a4a" stroke-width="0.35" font-weight="700">조</text>
<text transform="translate(118.26 411.10) scale(0.9416 1)" font-size="16.66" fill="#4a4a4a" stroke="#4a4a4a" stroke-width="0.35" font-weight="700">1,351</text>
<text transform="translate(192.36 402.20) scale(0.9027 1)" font-size="16.86" fill="#4a4a4a" stroke="#4a4a4a" stroke-width="0.35" clip-path="url(#c1b16_86)" font-weight="700">1</text>
<text class="k" transform="translate(199.40 402.55) scale(1.0667 1)" font-size="15.33" fill="#4a4a4a" stroke="#4a4a4a" stroke-width="0.35" font-weight="700">조</text>
<text transform="translate(216.50 402.30) scale(0.9988 1)" font-size="16.66" fill="#4a4a4a" stroke="#4a4a4a" stroke-width="0.35" font-weight="700">1,378</text>
<text transform="translate(288.94 389.80) scale(0.9223 1)" font-size="16.86" fill="#4a4a4a" stroke="#4a4a4a" stroke-width="0.35" clip-path="url(#c1b16_86)" font-weight="700">1</text>
<text class="k" transform="translate(295.99 390.15) scale(1.0745 1)" font-size="15.33" fill="#4a4a4a" stroke="#4a4a4a" stroke-width="0.35" font-weight="700">조</text>
<text transform="translate(314.38 389.90) scale(1.0175 1)" font-size="16.66" fill="#4a4a4a" stroke="#4a4a4a" stroke-width="0.35" font-weight="700">1,452</text>
<text transform="translate(388.94 305.80) scale(0.9223 1)" font-size="16.86" fill="#4a4a4a" stroke="#4a4a4a" stroke-width="0.35" clip-path="url(#c1b16_86)" font-weight="700">1</text>
<text class="k" transform="translate(395.57 306.15) scale(1.1059 1)" font-size="15.33" fill="#4a4a4a" stroke="#4a4a4a" stroke-width="0.35" font-weight="700">조</text>
<text transform="translate(413.24 305.90) scale(1.1166 1)" font-size="16.66" fill="#4a4a4a" stroke="#4a4a4a" stroke-width="0.35" font-weight="700">2,498</text>
</g>
<g id="big">
<text transform="translate(445.23 221.00) scale(0.9167 1)" font-size="31.40" fill="#a52d7a" stroke="#a52d7a" stroke-width="0.8" clip-path="url(#c1b31_4)" font-weight="700">1</text>
<text class="k" transform="translate(459.43 222.30) scale(1.0960 1)" font-size="29.87" fill="#a52d7a" stroke="#a52d7a" stroke-width="0.8" font-weight="700">조</text>
<text transform="translate(497.24 221.00) scale(1.1438 1)" font-size="31.40" fill="#a52d7a" stroke="#a52d7a" stroke-width="0.8" font-weight="700">3,067</text>
</g>

<g id="footer">
<path d="M204.500,621.500 C205,616.500 208.500,613.500 213,613.200" fill="none" stroke="#e9a24f" stroke-width="1.300" stroke-dasharray="2.200 1.400" stroke-linecap="round"/>
<path d="M328.600,612 l0.900,1.800 l2,0.300 l-1.500,1.400 l0.400,2 l-1.800,-1 l-1.800,1 l0.400,-2 l-1.500,-1.400 l2,-0.300 Z" fill="#d35fb0"/>
<text class="k" transform="translate(209.81 636.30) scale(0.9190 1)" font-size="22.19" fill="#e27c2c" font-weight="900">도약</text>
<text class="k" transform="translate(248.13 632.30) scale(1.0762 1)" font-size="11.84" fill="#e27c2c" font-weight="900">하는</text>
<text class="k" transform="translate(276.19 635.30) scale(1.0150 1)" font-size="20.48" fill="#3d3d3d" font-weight="900">서산</text>
<text class="k" transform="translate(314.63 636.50) scale(0.7778 1)" font-size="21.00" fill="#3d3d3d" font-weight="700">,</text>
<text class="k" transform="translate(329.66 636.30) scale(0.8748 1)" font-size="21.65" fill="#c3218d" font-weight="900">살맛</text>
<text class="k" transform="translate(364.58 632.30) scale(1.2205 1)" font-size="11.20" fill="#c3218d" font-weight="900">나는</text>
<text class="k" transform="translate(394.18 635.50) scale(1.0378 1)" font-size="20.69" fill="#3d3d3d" font-weight="900">서산</text>
</g>
<g id="wm">
<circle cx="499.500" cy="624.300" r="16.800" fill="#6596c9"/>
<path d="M485,617 C488,610.500 496,607.500 503,608.300 C499,613 493,617.500 487.500,624 Z" fill="#9ccb94"/>
<path d="M506,610 C512,613 515.500,618.500 516.200,624 C511.500,622 508.500,616.500 506,610 Z" fill="#a5d197"/>
<path d="M483.500,628 C486.500,634.500 492,639.500 498.500,641 C494.500,636 490,632 483.500,628 Z" fill="#98c690"/>
<path d="M505,630 C509.500,633 512,636 509.500,639 C505.500,637.500 504.500,633.500 505,630 Z" fill="#b1d583"/>
<rect x="484" y="620.800" width="31.500" height="7.600" fill="#4f7fb8" opacity="0.550"/>
<ellipse cx="499.300" cy="624.300" rx="19.800" ry="7" transform="rotate(-57 499.300 624.300)" fill="none" stroke="#e6323c" stroke-width="3"/>
<text class="k" x="499.600" y="627.300" text-anchor="middle" font-size="6.500" font-weight="700" fill="#ffffff" letter-spacing="0.300">연합뉴스</text>
<g class="k" font-weight="700" font-size="9.500">
<g filter="url(#fSh)" fill="#8f8f8a" fill-opacity="0.800">
<text class="k" x="520.400" y="619.600">전</text>
<text class="k" x="520.400" y="629.600">국</text>
</g>
<text class="k" x="520" y="618.800" fill="#ffffff">전</text>
<text class="k" x="520" y="628.800" fill="#ffffff">국</text>
</g>
<g class="k" font-weight="900" font-size="21">
<text class="k" transform="translate(531.600 630.300) skewX(-10)" fill="#8c8c87" fill-opacity="0.850" letter-spacing="6.300" filter="url(#fSh)">연합뉴스</text>
<text class="k" transform="translate(531.400 628.800) skewX(-10)" fill="#ffffff" letter-spacing="6.300">연합뉴스</text>
</g>
<g class="k" font-weight="700" font-size="9.500">
<text class="k" x="530.400" y="642.300" fill="#a3a39e" fill-opacity="0.800" letter-spacing="2.200" filter="url(#fSh2)">국민의 통신사 뉴스</text>
<text class="k" x="530" y="641.500" fill="#fdfdfa" letter-spacing="2.200">국민의 통신사 뉴스</text>
</g>
<ellipse cx="552.500" cy="654" rx="2.200" ry="1.600" fill="#5a5a58"/>
</g>
</svg>
</body>
</html>
